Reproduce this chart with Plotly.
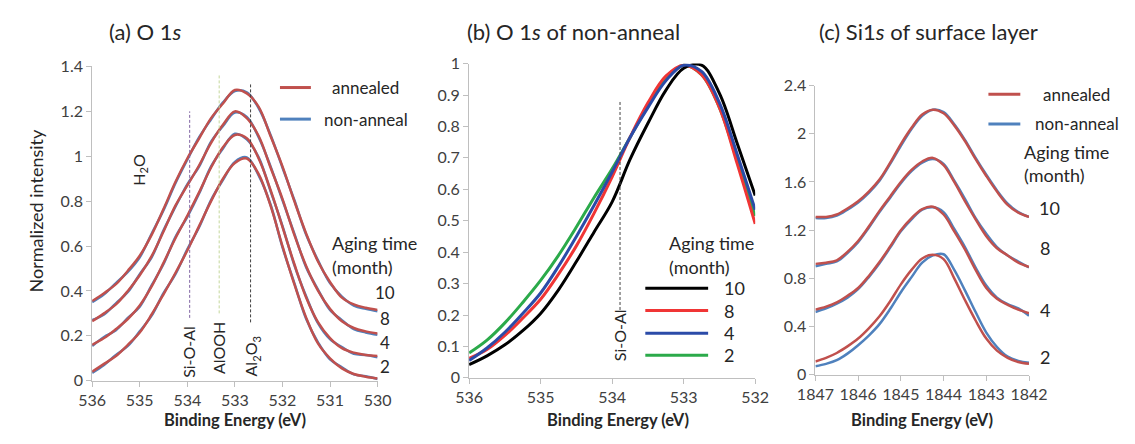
import plotly.graph_objects as go

# ---------------- data ----------------
# (a) O 1s, annealed vs non-anneal (offset curves for aging time)
E_a = [536, 535.75, 535.5, 535.25, 535, 534.75, 534.5, 534.25, 534, 533.75, 533.5, 533.25,
       533, 532.75, 532.5, 532.25, 532, 531.75, 531.5, 531.25, 531, 530.75, 530.5, 530.25, 530]
a10_ann = [0.355, 0.39, 0.43, 0.49, 0.557, 0.65, 0.765, 0.885, 0.99, 1.08, 1.17, 1.235, 1.295,
           1.28, 1.22, 1.09, 0.955, 0.80, 0.655, 0.53, 0.44, 0.37, 0.34, 0.325, 0.315]
a10_non = [0.35, 0.385, 0.435, 0.485, 0.55, 0.655, 0.76, 0.88, 0.985, 1.085, 1.165, 1.24, 1.29,
           1.285, 1.215, 1.095, 0.95, 0.805, 0.65, 0.535, 0.435, 0.375, 0.335, 0.32, 0.31]
a8_ann = [0.265, 0.30, 0.34, 0.40, 0.47, 0.555, 0.665, 0.78, 0.87, 0.96, 1.06, 1.14, 1.20,
          1.17, 1.09, 0.95, 0.81, 0.65, 0.51, 0.40, 0.32, 0.265, 0.235, 0.22, 0.21]
a8_non = [0.27, 0.295, 0.345, 0.395, 0.475, 0.55, 0.67, 0.775, 0.875, 0.955, 1.065, 1.135, 1.195,
          1.175, 1.085, 0.955, 0.805, 0.655, 0.505, 0.405, 0.315, 0.27, 0.23, 0.215, 0.205]
a4_ann = [0.16, 0.19, 0.23, 0.275, 0.335, 0.42, 0.525, 0.635, 0.735, 0.84, 0.95, 1.04, 1.095,
          1.08, 0.99, 0.85, 0.685, 0.52, 0.37, 0.26, 0.19, 0.145, 0.125, 0.115, 0.11]
a4_non = [0.155, 0.195, 0.225, 0.28, 0.33, 0.425, 0.52, 0.64, 0.73, 0.835, 0.955, 1.035, 1.10,
          1.075, 0.995, 0.845, 0.69, 0.515, 0.375, 0.255, 0.185, 0.15, 0.12, 0.115, 0.105]
a2_ann = [0.04, 0.075, 0.11, 0.16, 0.215, 0.295, 0.385, 0.48, 0.58, 0.69, 0.80, 0.90, 0.97,
          0.99, 0.92, 0.78, 0.60, 0.43, 0.28, 0.165, 0.10, 0.055, 0.03, 0.018, 0.01]
a2_non = [0.035, 0.07, 0.115, 0.155, 0.22, 0.29, 0.39, 0.475, 0.585, 0.685, 0.805, 0.895, 0.975,
          0.995, 0.915, 0.785, 0.595, 0.435, 0.275, 0.17, 0.095, 0.06, 0.028, 0.02, 0.008]

# (b) O 1s of non-anneal
E_b = [536, 535.75, 535.5, 535.25, 535, 534.75, 534.5, 534.25, 534, 533.75, 533.5, 533.25,
       533, 532.75, 532.5, 532.25, 532]
b10 = [0.042, 0.07, 0.105, 0.15, 0.205, 0.28, 0.37, 0.465, 0.56, 0.695, 0.81, 0.915, 0.985,
       0.995, 0.905, 0.745, 0.58]
b8 = [0.062, 0.09, 0.135, 0.19, 0.25, 0.33, 0.42, 0.525, 0.64, 0.765, 0.875, 0.96, 0.995,
      0.965, 0.86, 0.68, 0.49]
b4 = [0.055, 0.095, 0.145, 0.205, 0.27, 0.355, 0.45, 0.55, 0.655, 0.765, 0.86, 0.945, 0.995,
      0.975, 0.875, 0.71, 0.535]
b2 = [0.079, 0.12, 0.175, 0.24, 0.31, 0.39, 0.48, 0.575, 0.665, 0.765, 0.865, 0.95, 0.995,
      0.965, 0.86, 0.69, 0.515]

# (c) Si 1s of surface layer
E_c = [1847, 1846.75, 1846.5, 1846.25, 1846, 1845.75, 1845.5, 1845.25, 1845, 1844.75, 1844.5,
       1844.25, 1844, 1843.75, 1843.5, 1843.25, 1843, 1842.75, 1842.5, 1842.25, 1842]
c10_ann = [1.31, 1.31, 1.33, 1.38, 1.44, 1.52, 1.62, 1.76, 1.915, 2.05, 2.16, 2.2, 2.17, 2.07,
           1.94, 1.79, 1.65, 1.52, 1.41, 1.345, 1.31]
c10_non = [1.30, 1.30, 1.32, 1.37, 1.43, 1.51, 1.61, 1.75, 1.90, 2.04, 2.15, 2.20, 2.18, 2.08,
           1.95, 1.80, 1.66, 1.53, 1.42, 1.35, 1.31]
c8_ann = [0.92, 0.93, 0.95, 1.02, 1.11, 1.23, 1.36, 1.48, 1.60, 1.70, 1.77, 1.80, 1.74, 1.60,
          1.44, 1.29, 1.15, 1.05, 0.99, 0.93, 0.895]
c8_non = [0.90, 0.92, 0.94, 1.01, 1.10, 1.22, 1.35, 1.47, 1.59, 1.69, 1.76, 1.79, 1.75, 1.61,
          1.46, 1.30, 1.17, 1.06, 0.99, 0.94, 0.89]
c4_ann = [0.54, 0.565, 0.60, 0.655, 0.72, 0.82, 0.935, 1.065, 1.20, 1.30, 1.375, 1.395, 1.33,
          1.19, 1.04, 0.87, 0.72, 0.63, 0.58, 0.54, 0.51]
c4_non = [0.52, 0.55, 0.59, 0.64, 0.71, 0.81, 0.925, 1.055, 1.19, 1.29, 1.37, 1.39, 1.35,
          1.21, 1.06, 0.89, 0.74, 0.64, 0.585, 0.55, 0.49]
c2_ann = [0.11, 0.14, 0.18, 0.235, 0.30, 0.385, 0.485, 0.61, 0.75, 0.87, 0.965, 0.995, 0.96,
          0.80, 0.62, 0.45, 0.30, 0.20, 0.14, 0.105, 0.09]
c2_non = [0.07, 0.09, 0.12, 0.175, 0.245, 0.325, 0.42, 0.545, 0.685, 0.81, 0.93, 0.99, 1.0,
          0.87, 0.70, 0.52, 0.35, 0.23, 0.15, 0.115, 0.10]

months = ["10", "8", "4", "2"]
# reference energies (eV)
ref_a = [("Si-O-Al", 533.95, 0.28, 1.2, "#8064A2"),
         ("AlOOH", 533.33, 0.30, 1.36, "#C4D79B"),
         ("Al<sub>2</sub>O<sub>3</sub>", 532.67, 0.26, 1.32, "#404040")]
ref_b = [("Si-O-Al", 533.89, 0.216, 0.88, "#404040")]

# ---------------- style ----------------
W, H = 1135, 444
RED = "#C0504D"
BLUE = "#4F81BD"
FONT = "Lato"
TXT = "#262626"
AX = "#BFBFBF"


def fx(px):
    return px / W


def fy(py):
    return 1 - py / H


fig = go.Figure()

# panel a
for non in [a10_non, a8_non, a4_non, a2_non]:
    fig.add_trace(go.Scatter(x=E_a, y=non, mode="lines", line=dict(color=BLUE, width=2.5, shape="spline"),
                             xaxis="x", yaxis="y", showlegend=False))
for ann_ in [a10_ann, a8_ann, a4_ann, a2_ann]:
    fig.add_trace(go.Scatter(x=E_a, y=ann_, mode="lines", line=dict(color=RED, width=2.5, shape="spline"),
                             xaxis="x", yaxis="y", showlegend=False))

# panel b
b_cols = {"10": "#000000", "8": "#F03535", "4": "#2B4BA8", "2": "#2BAA4A"}
for key, ys in [("2", b2), ("8", b8), ("10", b10), ("4", b4)]:
    fig.add_trace(go.Scatter(x=E_b, y=ys, mode="lines", line=dict(color=b_cols[key], width=3, shape="spline"),
                             xaxis="x2", yaxis="y2", showlegend=False))

# panel c
for non in [c10_non, c8_non, c4_non, c2_non]:
    fig.add_trace(go.Scatter(x=E_c, y=non, mode="lines", line=dict(color=BLUE, width=2.5, shape="spline"),
                             xaxis="x3", yaxis="y3", showlegend=False))
for ann_ in [c10_ann, c8_ann, c4_ann, c2_ann]:
    fig.add_trace(go.Scatter(x=E_c, y=ann_, mode="lines", line=dict(color=RED, width=2.5, shape="spline"),
                             xaxis="x3", yaxis="y3", showlegend=False))

axcommon = dict(showline=True, linecolor=AX, linewidth=1, ticks="outside", ticklen=5, tickcolor=AX,
                showgrid=False, zeroline=False, tickfont=dict(family=FONT, size=16, color="#404040"))

fig.update_layout(
    width=W, height=H, margin=dict(l=0, r=0, t=0, b=0),
    paper_bgcolor="white", plot_bgcolor="white",
    xaxis=dict(domain=[fx(75.7), fx(371)], range=[536, 530], dtick=1, anchor="y", **axcommon),
    yaxis=dict(domain=[fy(387.3), fy(59)], range=[0, 1.4], dtick=0.2, anchor="x", **axcommon),
    xaxis2=dict(domain=[fx(465.7), fx(761.7)], range=[536, 532], dtick=1, anchor="y2", **axcommon),
    yaxis2=dict(domain=[fy(384.3), fy(56)], range=[0, 1.0], dtick=0.1, anchor="x2", **axcommon),
    xaxis3=dict(domain=[fx(824), fx(1045)], range=[1847, 1842], dtick=1, anchor="y3", **axcommon),
    yaxis3=dict(domain=[fy(381), fy(79)], range=[0, 2.4], dtick=0.4, anchor="x3", **axcommon),
)

shapes = []
ann = []


def txt(x, y, s, size=16, xanchor="center", angle=0, bold=False, color=TXT):
    if bold:
        s = "<b>" + s + "</b>"
    ann.append(dict(x=fx(x), y=fy(y), xref="paper", yref="paper", text=s, showarrow=False,
                    xanchor=xanchor, yanchor="middle", textangle=angle,
                    font=dict(family=FONT, size=size, color=color)))


# reference lines
for lab, e, y0, y1, col in ref_a:
    shapes.append(dict(type="line", xref="x", yref="y", x0=e, x1=e, y0=y0, y1=y1,
                       line=dict(color=col, width=1, dash="3px,2px")))
for lab, e, y0, y1, col in ref_b:
    shapes.append(dict(type="line", xref="x2", yref="y2", x0=e, x1=e, y0=y0, y1=y1,
                       line=dict(color=col, width=1, dash="3px,2px")))

# rotated labels
txt(176, 357, "Si-O-Al", size=16, angle=-90)
txt(207, 353, "AlOOH", size=16, angle=-90)
txt(241, 362, "Al<sub>2</sub>O<sub>3</sub>", size=16, angle=-90)
txt(125, 167, "H<sub>2</sub>O", size=16, angle=-90)
txt(621.5, 340, "Si-O-Al", size=16, angle=-90)

# titles
txt(131, 22, "(a) O 1<i>s</i>", size=22)
txt(574, 22, "(b) O 1<i>s</i> of non-anneal", size=22)
txt(941, 22, "(c) Si1<i>s</i> of surface layer", size=22)

# axis titles
txt(223, 428, "Binding Energy (eV)", size=16.5, bold=True)
txt(620, 428, "Binding Energy (eV)", size=16.5, bold=True)
txt(934, 428, "Binding Energy (eV)", size=16.5, bold=True)
txt(18, 210, "Normalized intensity", size=18, angle=-90)

# legend panel a
shapes.append(dict(type="line", xref="paper", yref="paper", x0=fx(270), x1=fx(302), y0=fy(81), y1=fy(81),
                   line=dict(color=RED, width=3)))
shapes.append(dict(type="line", xref="paper", yref="paper", x0=fx(270), x1=fx(302), y0=fy(114), y1=fy(114),
                   line=dict(color=BLUE, width=3)))
txt(322, 81, "annealed", xanchor="left", size=17)
txt(313, 114, "non-anneal", xanchor="left", size=17)
txt(322, 243, "Aging time", xanchor="left", size=18)
txt(322, 268, "(month)", xanchor="left", size=18)
for m, yy in zip(months, [295, 322, 347, 372]):
    txt(379, yy, m, size=17)

# legend panel b
for m, yy in zip(months, [290.7, 314, 337.7, 360.7]):
    shapes.append(dict(type="line", xref="paper", yref="paper", x0=fx(648), x1=fx(713), y0=fy(yy), y1=fy(yy),
                       line=dict(color=b_cols[m], width=3)))
    txt(727, yy, m, xanchor="left", size=18)
txt(670, 243, "Aging time", xanchor="left", size=18)
txt(670, 268, "(month)", xanchor="left", size=18)

# legend panel c
shapes.append(dict(type="line", xref="paper", yref="paper", x0=fx(1003), x1=fx(1036), y0=fy(88), y1=fy(88),
                   line=dict(color=RED, width=3)))
shapes.append(dict(type="line", xref="paper", yref="paper", x0=fx(1003), x1=fx(1036), y0=fy(119), y1=fy(119),
                   line=dict(color=BLUE, width=3)))
txt(1057, 88, "annealed", xanchor="left", size=17)
txt(1049, 119, "non-anneal", xanchor="left", size=17)
txt(1038, 148, "Aging time", xanchor="left", size=18)
txt(1038, 172, "(month)", xanchor="left", size=18)
for m, yy in zip(months, [207, 249, 313, 363]):
    txt(1066 if m == "10" else 1062, yy, m, size=18)

fig.update_layout(shapes=shapes, annotations=ann)
fig.write_html("out.html")
